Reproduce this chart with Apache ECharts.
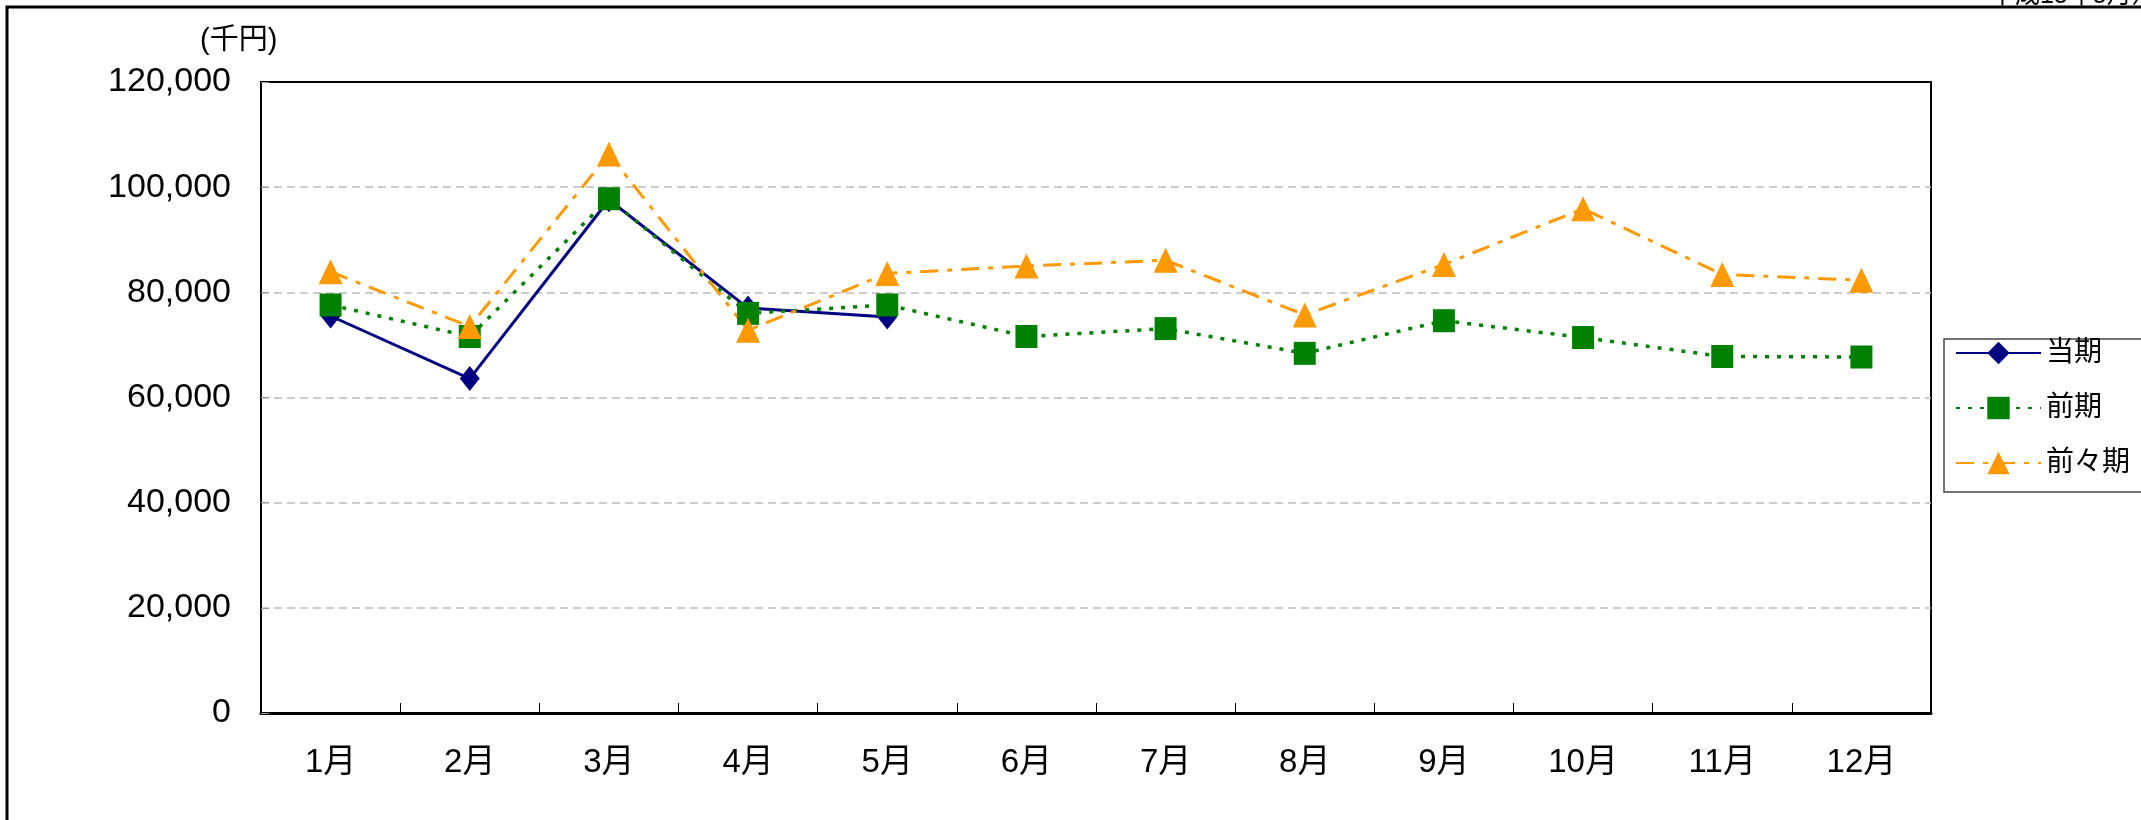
<!DOCTYPE html>
<html>
<head>
<meta charset="utf-8">
<script src="https://cdn.jsdelivr.net/npm/echarts@6/dist/echarts.min.js"></script>
<style>
html, body { margin: 0; padding: 0; background: #fff; }
#chart { width: 2141px; height: 820px; }
</style>
</head>
<body>
<div id="chart"></div>
<script>
var months = ['1月', '2月', '3月', '4月', '5月', '6月', '7月', '8月', '9月', '10月', '11月', '12月'];
var seriesNames = ['当期', '前期', '前々期'];
// 当期 (5月まで)
var current = [75500, 63600, 97600, 77000, 75300];
// 前期
var previous = [77600, 71600, 97800, 76000, 77600, 71600, 73100, 68400, 74600, 71400, 67800, 67700];
// 前々期
var twoBefore = [83900, 73500, 106300, 72800, 83600, 85000, 86100, 75700, 85300, 95900, 83400, 82300];

var font = "'Liberation Sans', Arial, 'Noto Sans CJK JP', sans-serif";

var chart = echarts.init(document.getElementById('chart'));
var option = {
	backgroundColor : '#fff',
	animation : false,
	textStyle : { fontFamily : font },
	graphic : [ {
		type : 'rect',
		shape : { x : 7, y : 7, width : 2200, height : 900 },
		style : { fill : null, stroke : '#000', lineWidth : 3 }
	}, {
		type : 'text',
		x : 200,
		y : 41,
		style : { text : '(千円)', font : '29px ' + font, fill : '#000', verticalAlign : 'middle' }
	}, {
		type : 'text',
		x : 1990,
		y : -16,
		style : { text : '平成15年5月）', font : '25px ' + font, fill : '#000' }
	} ],
	grid : {
		left : 261,
		right : 210,
		top : 82,
		bottom : 107,
		show : true,
		borderColor : '#000',
		borderWidth : 2
	},
	legend : {
		orient : 'vertical',
		left : 1944,
		top : 339,
		data : seriesNames,
		itemWidth : 85,
		itemHeight : 28,
		itemGap : 27,
		padding : [ 0, 80, 15, 11 ],
		backgroundColor : '#fff',
		borderColor : '#444',
		borderWidth : 1.5,
		borderRadius : 0,
		textStyle : { fontSize : 28, color : '#000', fontFamily : font }
	},
	xAxis : [ {
		type : 'category',
		data : months,
		boundaryGap : true,
		axisLine : { lineStyle : { color : '#000', width : 3 } },
		axisTick : { show : true, inside : true, length : 10, lineStyle : { color : '#000' } },
		axisLabel : { fontSize : 33, color : '#000', margin : 33, fontFamily : font }
	}, {
		// 上枠
		type : 'category',
		data : months,
		position : 'top',
		axisLine : { show : true, lineStyle : { color : '#000', width : 2 } },
		axisTick : { show : false },
		axisLabel : { show : false }
	} ],
	yAxis : {
		type : 'value',
		min : 0,
		max : 120000,
		interval : 20000,
		axisLine : { show : true, lineStyle : { color : '#000', width : 2 } },
		axisTick : { show : true, inside : true, length : 8, lineStyle : { color : '#999' } },
		axisLabel : {
			fontSize : 34,
			color : '#000',
			margin : 30,
			fontFamily : font,
			formatter : function(v) { return v.toLocaleString('en-US'); }
		},
		splitLine : { show : true, lineStyle : { color : '#bbb', type : [ 8, 5 ], width : 1.5 } }
	},
	series : [ {
		name : '当期',
		type : 'line',
		data : current,
		symbol : 'diamond',
		symbolSize : [ 20, 25 ],
		itemStyle : { color : '#000080' },
		lineStyle : { color : '#000080', width : 3, type : 'solid' }
	}, {
		name : '前期',
		type : 'line',
		data : previous,
		symbol : 'rect',
		symbolSize : [ 22, 23 ],
		itemStyle : { color : '#008000' },
		lineStyle : { color : '#008000', width : 3.5, type : [ 4, 8 ] }
	}, {
		name : '前々期',
		type : 'line',
		data : twoBefore,
		symbol : 'triangle',
		symbolSize : [ 24, 25 ],
		itemStyle : { color : '#FF9900' },
		lineStyle : { color : '#FF9900', width : 3, type : [ 18, 9, 5, 9 ] }
	} ]
};
chart.setOption(option);
</script>
</body>
</html>
